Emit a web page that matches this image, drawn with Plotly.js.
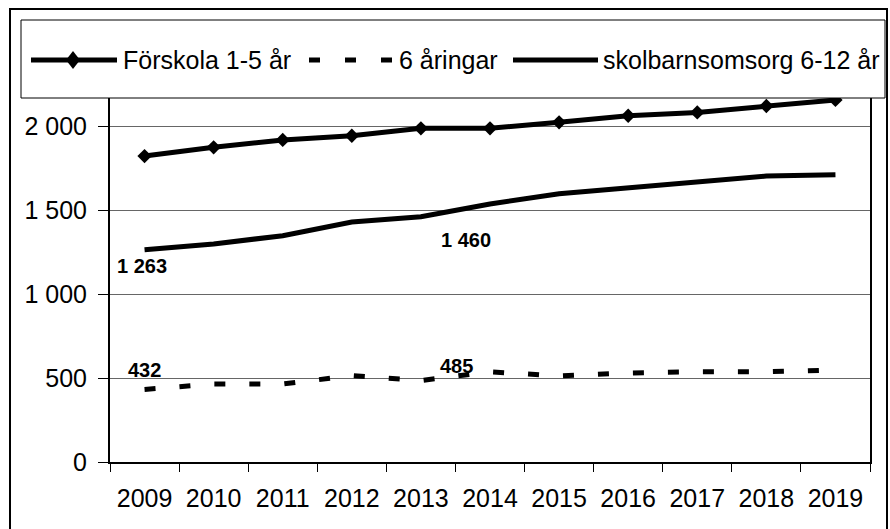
<!DOCTYPE html>
<html>
<head>
<meta charset="utf-8">
<script src="https://cdn.plot.ly/plotly-3.0.1.min.js"></script>
<style>html,body{margin:0;padding:0;background:#fff;}#chart{width:890px;height:529px;}</style>
</head>
<body>
<div id="chart"></div>
<script>
// ---- data ----
const years = ["2009","2010","2011","2012","2013","2014","2015","2016","2017","2018","2019"];
const forskola = [1821, 1873, 1917, 1942, 1986, 1986, 2022, 2061, 2081, 2119, 2155];
const sexaringar = [432, 464, 464, 514, 485, 537, 512, 530, 537, 537, 548];
const skolbarn = [1263, 1298, 1347, 1428, 1460, 1536, 1597, 1631, 1667, 1702, 1710];
const seriesNames = ["Förskola 1-5 år", "6 åringar", "skolbarnsomsorg 6-12 år"];
const yTicks = [0, 500, 1000, 1500, 2000];
// labelled points: [series, index]
const labelled = [["skolbarn", 0], ["skolbarn", 4], ["sexaringar", 0], ["sexaringar", 4]];

// ---- layout geometry (pixels) ----
const W = 890, H = 529, L = 110, R = 870, T = 42, B = 462;
const px = v => (v - L) / (R - L);
const py = v => (B - v) / (B - T);
const FONT = "Liberation Sans, Arial, sans-serif";
const fmt = n => String(n).replace(/\B(?=(\d{3})+(?!\d))/g, " ");
const DASH = "11px,24px";

const traces = [
  {x: years, y: forskola, name: seriesNames[0], type: "scatter", mode: "lines+markers",
   line: {color: "#000", width: 5}, marker: {symbol: "diamond", size: 11, color: "#000"}},
  {x: years, y: sexaringar, name: seriesNames[1], type: "scatter", mode: "lines",
   line: {color: "#000", width: 5, dash: DASH}},
  {x: years, y: skolbarn, name: seriesNames[2], type: "scatter", mode: "lines",
   line: {color: "#000", width: 5}}
];

const dataMap = {skolbarn: skolbarn, sexaringar: sexaringar};
const offsets = {
  "skolbarn,0": [-3, -16], "skolbarn,4": [45, -23],
  "sexaringar,0": [0, 19], "sexaringar,4": [36, 15]
};
const annotations = labelled.map(([s, i]) => {
  const off = offsets[s + "," + i];
  return {x: i, y: dataMap[s][i], xref: "x", yref: "y", text: "<b>" + fmt(dataMap[s][i]) + "</b>",
    showarrow: false, xshift: off[0], yshift: off[1], font: {family: FONT, size: 20, color: "#000"}};
});

// legend text
const legendY = 60;
const legendTextX = [122, 398, 602];
seriesNames.forEach((n, k) => {
  annotations.push({xref: "paper", yref: "paper", x: px(legendTextX[k]), y: py(legendY), xanchor: "left", yanchor: "middle",
    text: n, showarrow: false, font: {family: FONT, size: 25, color: "#000"}, borderpad: 0});
});

const shapes = [
  // outer frame
  {type: "rect", xref: "paper", yref: "paper", x0: px(10), x1: px(887), y0: py(545), y1: py(9),
   line: {color: "#000", width: 2}, fillcolor: "rgba(0,0,0,0)", layer: "above"},
  // legend box
  {type: "rect", xref: "paper", yref: "paper", x0: px(21), x1: px(885), y0: py(98), y1: py(20),
   line: {color: "#000", width: 1}, fillcolor: "#fff", layer: "above"},
  // legend symbols
  {type: "line", xref: "paper", yref: "paper", x0: px(31), x1: px(117), y0: py(legendY), y1: py(legendY),
   line: {color: "#000", width: 5}, layer: "above"},
  {type: "path", xref: "paper", yref: "paper", layer: "above", fillcolor: "#000", line: {color: "#000", width: 0},
   path: "M" + px(73) + "," + py(51) + " L" + px(80) + "," + py(60) + " L" + px(73) + "," + py(69) + " L" + px(66) + "," + py(60) + " Z"},
  {type: "line", xref: "paper", yref: "paper", x0: px(309), x1: px(394), y0: py(legendY), y1: py(legendY),
   line: {color: "#000", width: 5, dash: "11px,25px"}, layer: "above"},
  {type: "line", xref: "paper", yref: "paper", x0: px(513), x1: px(598), y0: py(legendY), y1: py(legendY),
   line: {color: "#000", width: 5}, layer: "above"}
];

const layout = {
  width: W, height: H,
  margin: {l: L, r: W - R, t: T, b: H - B, pad: 0},
  paper_bgcolor: "#fff", plot_bgcolor: "#fff",
  showlegend: false,
  font: {family: FONT, size: 25, color: "#000"},
  xaxis: {type: "category", range: [-0.5, years.length - 0.5], tickson: "boundaries",
    ticks: "outside", ticklen: 8, tickwidth: 1, tickcolor: "#000", ticklabelstandoff: 13,
    showline: true, linecolor: "#000", linewidth: 2, mirror: true, showgrid: false, zeroline: false,
    tickfont: {family: FONT, size: 25, color: "#000"}, fixedrange: true},
  yaxis: {range: [0, 2500], tickvals: yTicks, ticktext: yTicks.map(fmt),
    ticks: "outside", ticklen: 10, tickwidth: 1, tickcolor: "#000", ticklabelstandoff: 6,
    showline: true, linecolor: "#000", linewidth: 2, mirror: true,
    showgrid: true, gridcolor: "#666", gridwidth: 1, zeroline: false,
    tickfont: {family: FONT, size: 25, color: "#000"}, fixedrange: true},
  shapes: shapes,
  annotations: annotations
};

Plotly.newPlot("chart", traces, layout, {displayModeBar: false, staticPlot: true});
</script>
</body>
</html>
